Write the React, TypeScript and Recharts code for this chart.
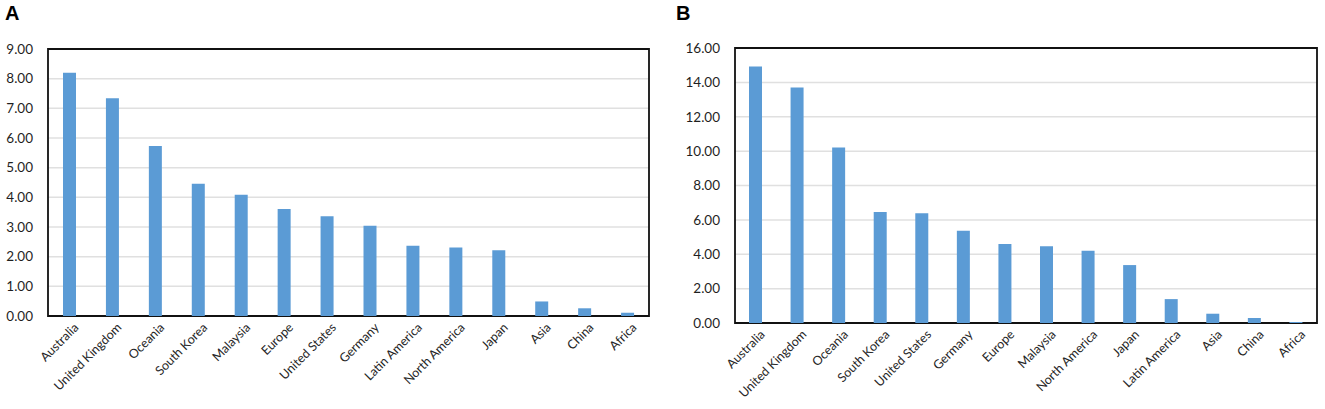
import React from "react";
import {
  BarChart,
  Bar,
  XAxis,
  YAxis,
  CartesianGrid,
  ReferenceArea,
} from "recharts";

const categoriesA = [
  "Australia",
  "United Kingdom",
  "Oceania",
  "South Korea",
  "Malaysia",
  "Europe",
  "United States",
  "Germany",
  "Latin America",
  "North America",
  "Japan",
  "Asia",
  "China",
  "Africa",
];
const valuesA = [8.2, 7.34, 5.73, 4.46, 4.09, 3.61, 3.36, 3.04, 2.37, 2.31, 2.22, 0.49, 0.26, 0.11];
const ticksA = [0, 1, 2, 3, 4, 5, 6, 7, 8, 9];

const categoriesB = [
  "Australia",
  "United Kingdom",
  "Oceania",
  "South Korea",
  "United States",
  "Germany",
  "Europe",
  "Malaysia",
  "North America",
  "Japan",
  "Latin America",
  "Asia",
  "China",
  "Africa",
];
const valuesB = [14.92, 13.7, 10.21, 6.46, 6.38, 5.37, 4.6, 4.47, 4.2, 3.37, 1.39, 0.54, 0.29, 0.06];
const ticksB = [0, 2, 4, 6, 8, 10, 12, 14, 16];

const BAR_COLOR = "#5b9bd5";
const FONT = "Lato, 'Open Sans', sans-serif";

const AngledTick = ({ x, y, payload }: any) => (
  <g transform={`translate(${x},${y})`}>
    <text
      x={4}
      y={10}
      textAnchor="end"
      transform="rotate(-45)"
      fontSize={12.5}
      fontFamily={FONT}
      fill="#262626"
    >
      {payload.value}
    </text>
  </g>
);

type PanelProps = {
  categories: string[];
  values: number[];
  ticks: number[];
  width: number;
  yWidth: number;
  top: number;
  xHeight: number;
  bottom: number;
  right: number;
};

const Panel = ({ categories, values, ticks, width, yWidth, top, xHeight, bottom, right }: PanelProps) => {
  const data = categories.map((name, i) => ({ name, value: values[i] }));
  const max = ticks[ticks.length - 1];
  return (
    <BarChart
      width={width}
      height={409}
      data={data}
      margin={{ top, right, left: 0, bottom }}
    >
      <CartesianGrid vertical={false} stroke="#e0e0e0" strokeWidth={1.5} />
      <XAxis
        dataKey="name"
        interval={0}
        height={xHeight}
        tick={<AngledTick />}
        tickLine={false}
        axisLine={false}
      />
      <YAxis
        width={yWidth}
        domain={[0, max]}
        ticks={ticks}
        tickFormatter={(v: number) => v.toFixed(2)}
        tickLine={false}
        axisLine={false}
        tickSize={0}
        tickMargin={15}
        tick={{ fontSize: 13.5, fontFamily: FONT, fill: "#1f1f1f" }}
      />
      <Bar dataKey="value" fill={BAR_COLOR} barSize={13} isAnimationActive={false} />
      <ReferenceArea y1={0} y2={max} fill="none" stroke="#111" strokeWidth={1.8} />
    </BarChart>
  );
};

export default function App() {
  return (
    <div style={{ position: "absolute", left: 0, top: 0, width: 1325, height: 409, background: "#fff" }}>
      <div style={{ position: "absolute", left: 5, top: 2, fontFamily: "'Liberation Sans', Arial, sans-serif", fontWeight: "bold", fontSize: 20 }}>
        A
      </div>
      <div style={{ position: "absolute", left: 676, top: 2, fontFamily: "'Liberation Sans', Arial, sans-serif", fontWeight: "bold", fontSize: 20 }}>
        B
      </div>
      <div style={{ position: "absolute", left: 0, top: 0 }}>
        <Panel
          categories={categoriesA}
          values={valuesA}
          ticks={ticksA}
          width={660}
          yWidth={48}
          top={49}
          xHeight={80}
          bottom={13}
          right={11}
        />
      </div>
      <div style={{ position: "absolute", left: 660, top: 0 }}>
        <Panel
          categories={categoriesB}
          values={valuesB}
          ticks={ticksB}
          width={665}
          yWidth={75}
          top={48}
          xHeight={75}
          bottom={11}
          right={8}
        />
      </div>
    </div>
  );
}
